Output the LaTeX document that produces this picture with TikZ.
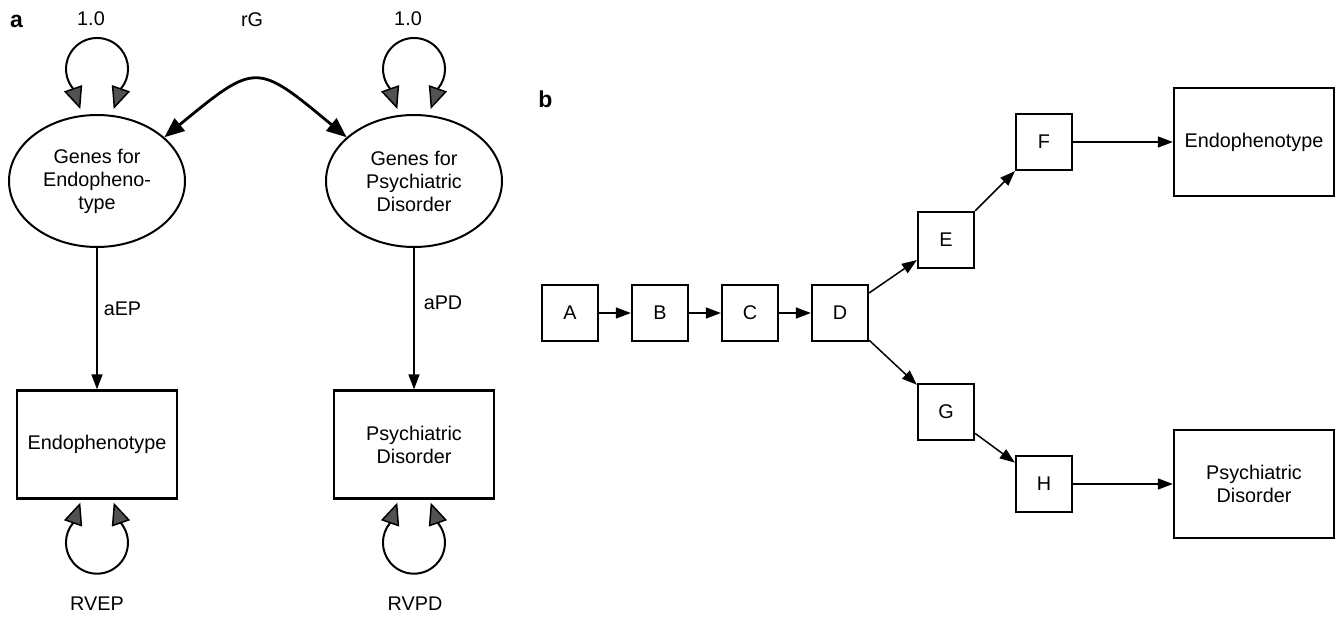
\documentclass[tikz,border=0pt]{standalone}
\usepackage{fontspec}
\setmainfont{Liberation Sans}
\usetikzlibrary{arrows.meta,shapes.geometric,calc}

\tikzset{
  varline/.style={line width=2pt},
  varhead/.style={line width=1.5pt, -{Triangle[length=22pt,width=19pt,fill=black!68]}},
  % variance loop: the two tips sit at the pic origin, the loop rises above it
  varloop/.pic={
    \draw[varline] (-23.7,-20.1) arc[start angle=140,end angle=400,radius=31];
    \draw[varhead] (-23.7,-20.1) -- (-16.7,0);
    \draw[varhead] (23.7,-20.1) -- (16.7,0);
  }
}

\begin{document}
\begin{tikzpicture}[x=1pt,y=-1pt,
  every node/.style={font=\fontsize{19.8}{23}\selectfont},
  latent/.style={ellipse, draw, line width=2pt, minimum width=176pt,
    minimum height=132pt, inner sep=0pt, align=center},
  bigbox/.style={rectangle, draw, line width=2.3pt, minimum width=160pt,
    minimum height=108pt, inner sep=0pt, align=center},
  smallbox/.style={rectangle, draw, line width=2.3pt, minimum width=56pt,
    minimum height=56pt, inner sep=0pt},
  panel/.style={font=\bfseries\fontsize{23}{25}\selectfont},
  flow/.style={line width=1.5pt, -{Triangle[length=15pt,width=11pt]}},
  corr/.style={line width=2.8pt,
    {Triangle[length=20pt,width=16pt]}-{Triangle[length=20pt,width=16pt]}},
  lbl/.style={inner sep=0pt, anchor=west}
]
\useasboundingbox (0,0) rectangle (1342,618);

% ---------- panel a: genetic correlation model ----------
\node[panel] (la) at (16.5,21) {a};
\node[latent] (gE) at (97,181) {Genes for\\Endopheno-\\type};
\node[latent] (gP) at (414,181) {Genes for\\Psychiatric\\Disorder};
\node[bigbox] (eBox) at (97,444.5) {Endophenotype};
\node[bigbox] (pBox) at (414,444.5) {Psychiatric\\Disorder};

\node (oneE) at (91,18.5) {1.0};
\node (oneP) at (408,18.5) {1.0};
\node (rG) at (252,19.5) {rG};
\node (rvE) at (97,604) {RVEP};
\node (rvP) at (415,604) {RVPD};

\pic at ($(gE.north)+(0,-5)$) {varloop};
\pic at ($(gP.north)+(0,-5)$) {varloop};
\pic[rotate=180] at ($(eBox.south)+(0,3)$) {varloop};
\pic[rotate=180] at ($(pBox.south)+(0,3)$) {varloop};

\draw[corr] (gE.33) .. controls (256,62) .. (gP.147);

\draw[flow] (gE) -- node[lbl, pos=0.43, xshift=6pt] {aEP} (eBox);
\draw[flow] (gP) -- node[lbl, pos=0.39, xshift=9pt] {aPD} (pBox);

% ---------- panel b: causal pathway ----------
\node[panel] (lb) at (545.5,99.5) {b};
\node[smallbox] (A) at (570,313) {A};
\node[smallbox] (B) at (660,313) {B};
\node[smallbox] (C) at (750,313) {C};
\node[smallbox] (D) at (840,313) {D};
\node[smallbox] (E) at (946,240) {E};
\node[smallbox] (F) at (1044,142) {F};
\node[smallbox] (G) at (946,412) {G};
\node[smallbox] (H) at (1044,484) {H};
\node[bigbox] (endo) at (1254,142) {Endophenotype};
\node[bigbox] (psy) at (1254,484) {Psychiatric\\Disorder};

\draw[flow] (A) -- (B);
\draw[flow] (B) -- (C);
\draw[flow] (C) -- (D);
\draw[flow] (D) -- (E);
\draw[flow] (E) -- (F);
\draw[flow] (F) -- (endo);
\draw[flow] (D) -- (G);
\draw[flow] (G) -- (H);
\draw[flow] (H) -- (psy);
\end{tikzpicture}
\end{document}
